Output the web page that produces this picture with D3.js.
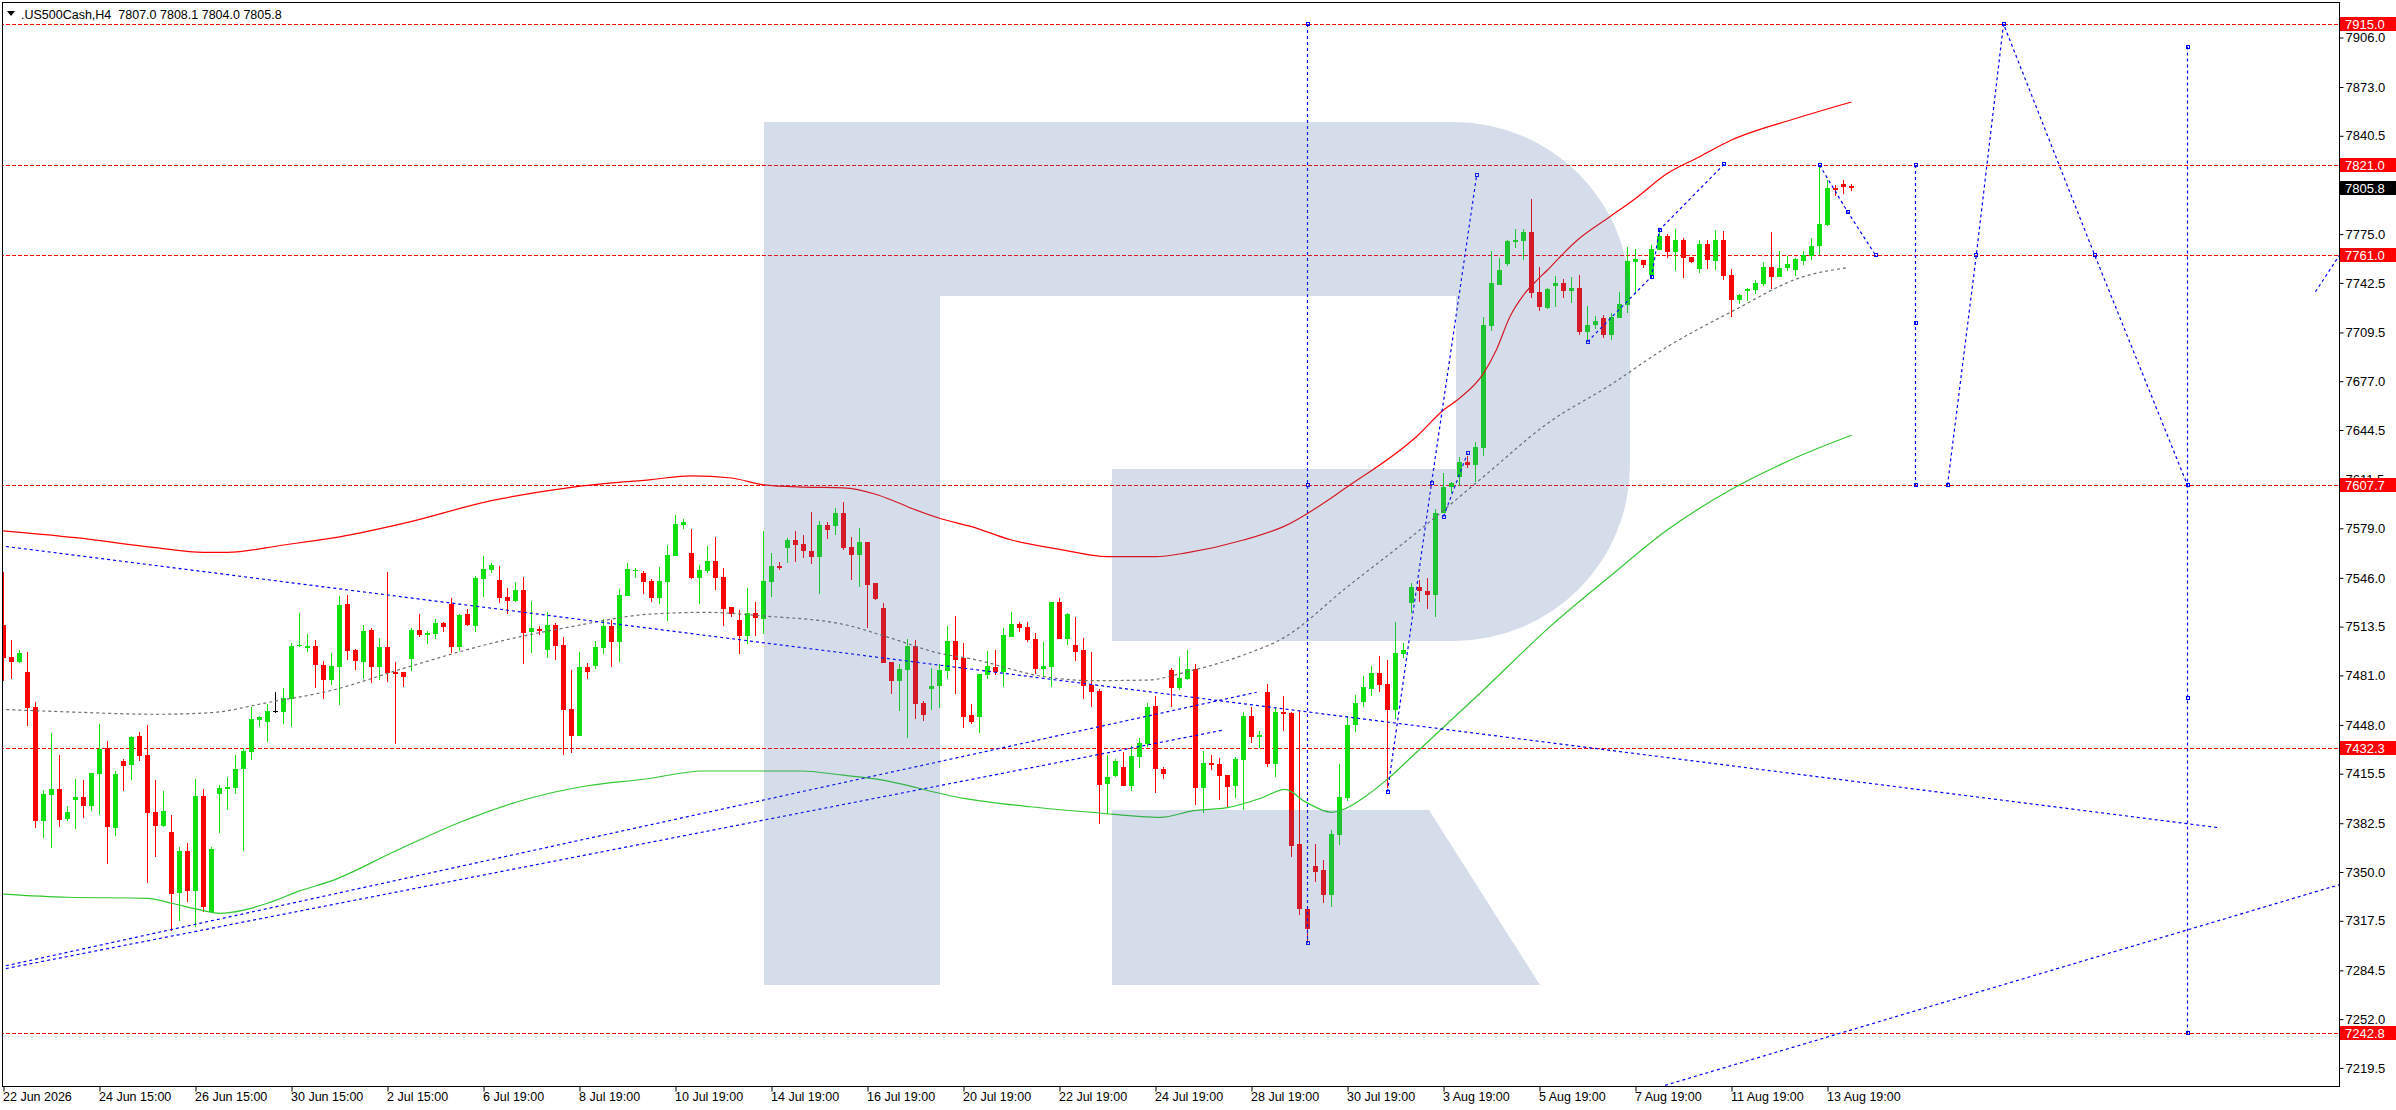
<!DOCTYPE html>
<html>
<head>
<meta charset="utf-8">
<script src="https://cdn.jsdelivr.net/npm/d3@7"></script>
<style>
body { margin: 0; background: #fff; }
svg { display: block; font-family: Tahoma, "Liberation Sans", Arial, sans-serif; }
</style>
</head>
<body>
<script>

// ---- data ----
var symbolTitle = ".US500Cash,H4  7807.0 7808.1 7804.0 7805.8";

var opens = [
7514.6,7493.5,7490.2,7483.3,7459.8,7384.3,7401.6,7405.4,7385.6,7398.2,
7400.0,7394.3,7415.4,7432.5,7379.6,7424.0,7421.3,7440.7,7428.0,7390.0,
7380.9,7376.7,7336.3,7364.1,7337.6,7400.7,7323.6,7402.3,7405.1,7406.3,
7418.5,7430.2,7451.3,7450.2,7457.3,7456.9,7465.6,7500.6,7499.3,7500.6,
7488.2,7477.9,7486.6,7528.6,7497.9,7489.9,7511.3,7486.6,7499.9,7483.3,
7483.3,7491.9,7511.3,7508.0,7508.6,7515.9,7528.6,7499.9,7521.9,7513.9,
7545.2,7551.2,7544.6,7533.3,7530.6,7537.9,7509.9,7511.9,7497.9,7514.6,
7501.3,7458.6,7440.6,7486.6,7487.3,7499.3,7513.9,7503.3,7533.9,7550.9,
7549.2,7543.9,7532.6,7543.2,7560.6,7581.2,7562.6,7545.9,7550.6,7557.2,
7546.6,7526.6,7517.9,7507.3,7522.6,7518.6,7543.2,7553.9,7565.9,7571.2,
7568.6,7563.9,7559.9,7581.2,7580.6,7589.2,7566.6,7561.2,7569.9,7542.6,
7525.9,7489.9,7477.3,7484.6,7500.6,7462.6,7471.9,7473.9,7483.9,7503.9,
7492.6,7454.6,7453.5,7481.5,7486.6,7483.5,7506.6,7515.2,7513.2,7505.2,
7485.3,7486.6,7529.9,7505.2,7501.2,7497.9,7474.6,7470.6,7408.6,7414.0,
7419.9,7407.3,7426.6,7435.3,7460.6,7418.6,7484.6,7472.6,7478.6,7485.3,
7405.9,7422.6,7421.9,7414.6,7407.3,7424.6,7453.9,7439.9,7469.9,7421.9,
7456.6,7455.8,7368.7,7325.2,7354.0,7351.4,7334.9,7374.7,7399.3,7448.0,
7463.3,7472.0,7482.6,7475.3,7458.0,7495.2,7529.0,7540.1,7537.2,7534.6,
7588.9,7606.7,7613.4,7623.2,7621.2,7632.7,7714.0,7741.1,7755.1,7769.7,
7770.6,7776.6,7736.4,7726.0,7740.6,7742.4,7737.3,7739.3,7710.0,7714.3,
7719.3,7707.8,7719.1,7727.8,7756.6,7758.0,7748.0,7764.4,7773.7,7763.1,
7771.1,7759.8,7751.8,7768.4,7757.1,7771.1,7747.8,7731.1,7737.1,7737.8,
7741.8,7753.1,7746.4,7752.4,7751.1,7757.1,7760.4,7767.1,7781.1,7805.7,
7808.4,7807.0];

var highs = [
7550.2,7504.6,7497.9,7496.6,7463.3,7404.7,7442.7,7428.0,7394.0,7412.0,
7411.4,7416.3,7448.7,7437.4,7417.1,7425.6,7440.7,7443.3,7448.0,7411.4,
7404.0,7388.0,7366.9,7369.2,7412.0,7405.6,7366.9,7408.0,7413.6,7428.0,
7432.5,7459.8,7454.0,7461.8,7470.0,7472.9,7502.4,7522.4,7508.6,7504.6,
7490.6,7495.9,7533.9,7534.6,7498.6,7514.6,7512.6,7505.9,7549.9,7489.9,
7483.3,7512.6,7521.9,7510.6,7518.6,7516.5,7532.6,7521.9,7525.3,7547.2,
7560.6,7555.9,7553.9,7539.2,7543.2,7546.6,7530.6,7513.9,7523.3,7515.9,
7506.6,7484.6,7496.6,7489.3,7503.9,7518.6,7517.9,7538.6,7555.9,7552.6,
7550.6,7545.2,7553.2,7567.9,7587.9,7585.2,7578.6,7554.6,7567.2,7573.2,
7552.6,7526.6,7524.6,7539.2,7529.9,7577.2,7562.6,7556.6,7572.6,7577.2,
7574.6,7589.9,7583.9,7583.2,7592.5,7596.5,7573.2,7579.2,7569.9,7542.6,
7529.3,7489.9,7488.6,7505.3,7504.6,7463.9,7485.9,7488.6,7513.9,7520.6,
7502.6,7461.9,7481.9,7497.3,7497.9,7512.6,7523.2,7516.6,7516.6,7509.2,
7503.2,7529.9,7532.6,7522.6,7519.9,7505.9,7496.6,7471.9,7427.9,7425.3,
7429.9,7433.9,7439.3,7462.6,7467.3,7419.9,7485.9,7493.3,7497.9,7488.6,
7430.6,7427.9,7425.9,7414.6,7426.6,7456.6,7459.9,7443.9,7475.3,7459.3,
7467.3,7456.6,7457.3,7327.0,7368.7,7358.0,7378.0,7422.2,7454.0,7468.0,
7480.6,7487.3,7494.0,7491.3,7516.6,7502.8,7542.3,7544.5,7545.9,7591.8,
7616.1,7610.1,7626.3,7627.2,7636.3,7720.0,7763.7,7759.1,7771.1,7778.4,
7778.4,7798.4,7753.1,7739.3,7747.1,7745.1,7746.4,7747.7,7727.3,7720.7,
7720.9,7722.4,7736.4,7766.4,7765.1,7758.0,7767.7,7777.7,7775.1,7778.4,
7772.4,7759.8,7771.1,7771.1,7777.7,7777.1,7751.8,7735.1,7739.1,7744.4,
7756.4,7776.4,7763.8,7760.4,7759.1,7763.8,7772.4,7820.4,7811.1,7807.7,
7811.1,7808.1];

var lows = [
7477.5,7478.6,7489.1,7447.3,7379.6,7372.9,7366.3,7380.3,7384.0,7378.9,
7386.3,7390.9,7387.8,7355.6,7374.3,7404.3,7411.6,7424.0,7343.0,7360.3,
7380.3,7310.8,7317.4,7329.9,7313.6,7323.6,7322.5,7375.8,7391.4,7402.0,
7364.3,7424.7,7446.9,7436.9,7455.8,7448.7,7446.9,7500.2,7496.6,7472.9,
7465.3,7474.6,7461.3,7491.3,7484.6,7478.6,7476.2,7477.9,7476.6,7435.3,
7473.3,7483.9,7506.6,7501.9,7505.3,7509.9,7495.9,7497.3,7513.9,7509.9,
7533.3,7549.2,7529.3,7521.9,7529.9,7488.6,7495.9,7507.9,7492.6,7491.3,
7428.0,7429.3,7440.6,7478.6,7485.3,7495.3,7486.6,7489.9,7533.9,7545.9,
7535.3,7529.9,7528.6,7517.3,7560.6,7578.6,7545.2,7528.6,7549.2,7537.9,
7513.9,7519.9,7495.3,7501.9,7507.3,7508.6,7533.3,7551.2,7555.9,7556.6,
7559.2,7555.2,7535.3,7571.9,7574.6,7564.6,7544.6,7539.9,7512.6,7531.3,
7489.3,7468.6,7457.3,7439.3,7452.0,7450.6,7457.9,7459.3,7478.6,7468.6,
7446.2,7448.8,7442.8,7478.8,7481.5,7473.5,7506.6,7509.9,7503.2,7481.9,
7480.6,7473.5,7505.2,7501.2,7490.6,7465.3,7459.9,7382.0,7388.7,7413.3,
7407.3,7404.0,7419.3,7433.0,7402.6,7412.0,7459.9,7471.3,7477.9,7394.6,
7389.3,7417.9,7397.9,7392.6,7399.3,7391.3,7435.9,7432.6,7419.9,7413.3,
7443.9,7360.2,7321.2,7303.6,7343.6,7329.6,7326.9,7368.0,7397.3,7443.5,
7460.0,7467.3,7469.9,7405.8,7452.0,7492.4,7522.3,7530.1,7525.0,7520.1,
7588.9,7602.7,7607.2,7619.4,7610.1,7627.2,7710.4,7741.1,7754.0,7765.7,
7757.7,7732.6,7724.0,7725.3,7726.7,7732.6,7729.3,7708.0,7704.7,7712.0,
7706.0,7704.5,7719.1,7722.4,7735.1,7752.4,7745.5,7764.4,7759.1,7750.4,
7745.8,7755.8,7749.1,7751.8,7751.1,7744.4,7719.8,7728.4,7730.4,7735.1,
7740.4,7738.4,7746.4,7750.4,7747.1,7754.4,7757.8,7761.1,7780.4,7800.4,
7801.7,7804.0];

var closes = [
7492.9,7490.2,7495.7,7459.6,7384.3,7402.0,7405.4,7384.9,7390.0,7400.0,
7394.3,7416.3,7432.2,7380.3,7415.4,7420.9,7440.0,7427.3,7389.6,7380.9,
7390.7,7335.6,7364.1,7337.6,7400.7,7326.5,7365.4,7406.3,7406.9,7418.7,
7430.7,7452.0,7453.3,7457.3,7457.3,7465.8,7500.6,7501.0,7500.6,7488.2,
7478.0,7487.3,7527.9,7497.5,7490.6,7510.6,7486.6,7499.9,7482.6,7481.9,
7479.9,7511.3,7507.9,7509.3,7515.9,7513.3,7499.9,7521.3,7514.6,7545.9,
7551.9,7554.6,7532.6,7530.6,7537.9,7509.3,7512.6,7510.6,7514.6,7500.6,
7457.9,7440.6,7486.6,7483.3,7499.9,7513.9,7503.3,7534.6,7551.9,7551.3,
7543.2,7532.6,7543.9,7561.2,7581.9,7583.2,7545.9,7551.2,7557.2,7545.9,
7525.3,7521.9,7507.3,7522.6,7519.3,7543.9,7553.9,7552.6,7571.2,7567.9,
7563.9,7559.9,7581.2,7577.9,7589.2,7565.9,7561.2,7569.9,7541.2,7531.9,
7489.3,7477.3,7485.3,7500.6,7461.9,7454.6,7473.9,7484.6,7503.9,7491.3,
7453.5,7450.2,7481.9,7487.3,7483.5,7507.9,7515.2,7512.6,7504.6,7485.3,
7487.3,7529.9,7505.2,7521.9,7496.6,7473.9,7469.9,7408.0,7413.3,7423.9,
7407.3,7427.3,7435.9,7459.9,7418.6,7415.3,7472.6,7479.3,7485.3,7405.9,
7422.6,7421.3,7413.9,7406.6,7425.3,7453.9,7439.9,7441.3,7421.9,7456.6,
7455.3,7367.6,7325.2,7311.8,7350.3,7334.9,7375.3,7400.0,7448.0,7462.6,
7473.3,7482.6,7474.6,7458.0,7495.9,7497.9,7540.1,7537.4,7534.6,7588.9,
7606.7,7609.4,7623.2,7621.2,7633.4,7714.4,7742.4,7751.1,7770.6,7771.1,
7776.6,7735.8,7726.7,7738.6,7742.4,7737.3,7739.3,7710.0,7714.7,7717.3,
7708.0,7719.8,7728.4,7757.1,7758.4,7754.4,7765.1,7773.7,7763.1,7771.1,
7759.1,7756.4,7768.4,7757.8,7771.1,7747.1,7731.1,7734.4,7738.4,7742.4,
7753.1,7746.4,7752.4,7755.1,7758.4,7761.1,7767.1,7781.7,7805.7,7804.4,
7806.4,7805.8];

// envelope lines: bar index / price pairs read at intervals
var upperBars = [-0.4,9,19,25,28,35,41,50,61,71,81,86,91,95,100,105,109,111,113,117,121,126,132,138,144,148,155,160,168.3,176.6,180,182,185,186.6,188.3,190,191.7,193,195,197,200.8,204,208,212,216,224,231];
var upperVals = [7577.5,7572.8,7566.1,7563.0,7563.0,7567.9,7572.4,7582.3,7597.4,7606.3,7611.5,7614.0,7612.5,7608.0,7606.5,7606.0,7601.7,7597.9,7593.4,7585.7,7580.1,7571.2,7565.0,7560.1,7560.1,7562.8,7571.2,7580.1,7607.8,7640.0,7657.8,7665.6,7682.2,7697.8,7720.0,7734.4,7744.4,7751.1,7762.2,7772.2,7786.6,7798.8,7815.5,7826.6,7837.7,7852.0,7863.0];

var midBars = [-0.4,8,19,26,33,41,50,61,71,81,88,95,105,111,117,121,130,136,143,148,155,160,168,176,185,193,201,208,216,225,230.4];
var midVals = [7458.4,7456.7,7455.1,7456.2,7462.9,7471.0,7485.7,7502.4,7513.5,7521.9,7523.0,7520.6,7515.0,7505.7,7495.7,7492.0,7480.2,7477.5,7477.9,7483.5,7494.6,7506.0,7540.1,7573.4,7613.4,7648.9,7675.0,7700.0,7723.3,7746.7,7752.6];

var lowerBars = [-0.4,8,18,21,25,27,33,37,41,49,57,65,73,80,87.5,99.7,104.7,109,120,128.3,136.6,144.6,148.8,153,157.1,160.2,162.7,166,167.3,170.2,173.1,176.4,185,193,201,208,216,224,231];
var lowerVals = [7335.4,7333.2,7332.5,7329.2,7324.3,7322.5,7329.2,7337.4,7344.1,7364.0,7383.0,7398.0,7407.5,7411.8,7417.3,7417.3,7414.7,7412.0,7399.1,7393.5,7389.5,7386.4,7390.9,7392.9,7399.1,7405.1,7396.9,7389.8,7391.3,7400.2,7412.4,7428.6,7471.3,7512.0,7547.9,7578.0,7605.0,7626.0,7641.0];

// horizontal levels and labels on the price scale
var levels = [7915.0, 7821.0, 7761.0, 7607.7, 7432.3, 7242.8];
var lastPrice = 7805.8;
var priceTicks = [7906.0,7873.0,7840.5,7775.0,7742.5,7709.5,7677.0,7644.5,7611.5,7579.0,7546.0,7513.5,7481.0,7448.0,7415.5,7382.5,7350.0,7317.5,7284.5,7252.0,7219.5];
var timeLabels = ["22 Jun 2026","24 Jun 15:00","26 Jun 15:00","30 Jun 15:00","2 Jul 15:00","6 Jul 19:00","8 Jul 19:00","10 Jul 19:00","14 Jul 19:00","16 Jul 19:00","20 Jul 19:00","22 Jul 19:00","24 Jul 19:00","28 Jul 19:00","30 Jul 19:00","3 Aug 19:00","5 Aug 19:00","7 Aug 19:00","11 Aug 19:00","13 Aug 19:00"];
var barsPerLabel = 12;

// drawn objects: [bar, price] anchor points
var trendFall  = [[-0.44, 7567.4], [277.1, 7379.4]];
var trendRiseA = [[-0.44, 7286.7], [156.65, 7469.8]];
var trendRiseB = [[-0.44, 7284.9], [152.5, 7444.6]];
var trendBase  = [[207.7, 7207.9], [292.0, 7341.6]];

var waveVert1 = [[163, 7915.0], [163, 7607.7], [163, 7302.5]];
var waveRise1 = [[173, 7403.5], [178.5, 7609.0], [184.15, 7814.4]];
var waveRise2 = [[180, 7586.8], [183, 7629.1]];
var waveRise3 = [[198, 7703.3], [206, 7746.7], [207, 7777.8], [215.1, 7821.7]];
var waveDrop  = [[227, 7821.0], [230.5, 7790.0], [234, 7761.0]];
var waveVert2 = [[239, 7821.0], [239, 7715.7], [239, 7607.7]];
var wavePeak  = [[243, 7607.7], [246.6, 7761.0], [250, 7915.0], [261.4, 7761.0], [273, 7607.7]];
var waveVert3 = [[273, 7900.0], [273, 7607.7], [273, 7466.0], [273, 7242.8]];
var waveTail  = [[289, 7736.6], [292, 7761.0]];

// ---- layout ----
var width = 2396, height = 1110;
var plotRight = 2339, plotBottom = 1086;

var x = d3.scaleLinear().domain([0, 1]).range([3.5, 11.5]);      // 8px per bar
var y = d3.scaleLinear().domain([7906, 7219.5]).range([37.5, 1067.9]);

var bull = "#10e010", bear = "#ff0000", blue = "#0000ff";

var svg = d3.select("body").append("svg")
.attr("width", width)
.attr("height", height);

svg.append("defs").append("clipPath").attr("id", "plot")
.append("rect").attr("x", 3).attr("y", 3).attr("width", plotRight - 3).attr("height", plotBottom - 3);

var plot = svg.append("g").attr("clip-path", "url(#plot)");

// red horizontal levels
plot.selectAll("line.level").data(levels).enter().append("line")
.attr("class", "level")
.attr("x1", 0).attr("x2", plotRight)
.attr("y1", function(d) { return Math.round(y(d)) + 0.5; })
.attr("y2", function(d) { return Math.round(y(d)) + 0.5; })
.attr("stroke", "#ff0000")
.attr("stroke-dasharray", "4,2");

// candles
var bars = d3.range(opens.length).map(function(i) {
	return {i: i, o: opens[i], h: highs[i], l: lows[i], c: closes[i]};
});

var candle = plot.selectAll("g.candle").data(bars).enter().append("g")
.attr("class", "candle")
.attr("shape-rendering", "crispEdges")
.attr("fill", function(d) { return d.c > d.o ? bull : (d.c < d.o ? bear : "#000"); });

candle.append("rect")
.attr("x", function(d) { return x(d.i) - 0.5; })
.attr("width", 1)
.attr("y", function(d) { return Math.round(y(d.h)); })
.attr("height", function(d) { return Math.max(1, Math.round(y(d.l)) - Math.round(y(d.h))); });

candle.append("rect")
.attr("x", function(d) { return x(d.i) - 2.5; })
.attr("width", 5)
.attr("y", function(d) { return Math.round(y(Math.max(d.o, d.c))); })
.attr("height", function(d) { return Math.max(1, Math.round(y(Math.min(d.o, d.c))) - Math.round(y(Math.max(d.o, d.c)))); });

// envelope lines
var curve = d3.line()
.x(function(d) { return x(d[0]); })
.y(function(d) { return y(d[1]); })
.curve(d3.curveMonotoneX);

function zip(a, b) { return a.map(function(v, i) { return [v, b[i]]; }); }

plot.append("path").datum(zip(upperBars, upperVals))
.attr("d", curve).attr("fill", "none").attr("stroke", "#ff0000").attr("stroke-width", 1.2);
plot.append("path").datum(zip(midBars, midVals))
.attr("d", curve).attr("fill", "none").attr("stroke", "#6e6e6e").attr("stroke-width", 1.2).attr("stroke-dasharray", "3,3");
plot.append("path").datum(zip(lowerBars, lowerVals))
.attr("d", curve).attr("fill", "none").attr("stroke", "#32c832").attr("stroke-width", 1.2);

// blue dotted objects
var straight = d3.line()
.x(function(d) { return x(d[0]); })
.y(function(d) { return y(d[1]); });

[trendFall, trendRiseA, trendRiseB, trendBase].forEach(function(pts) {
	plot.append("path").datum(pts)
	.attr("d", straight).attr("fill", "none")
	.attr("stroke", blue).attr("stroke-width", 1.2).attr("stroke-dasharray", "3,3");
});

[waveVert1, waveRise1, waveRise2, waveRise3, waveDrop, waveVert2, wavePeak, waveVert3, waveTail].forEach(function(pts, k) {
	plot.append("path").datum(pts)
	.attr("d", straight).attr("fill", "none")
	.attr("stroke", blue).attr("stroke-width", 1.2).attr("stroke-dasharray", "3,3");
	if (pts === waveTail) return;
	plot.selectAll("rect.m" + k).data(pts).enter().append("rect")
	.attr("class", "m" + k)
	.attr("x", function(d) { return Math.round(x(d[0])) - 1.5; })
	.attr("y", function(d) { return Math.round(y(d[1])) - 1.5; })
	.attr("width", 3).attr("height", 3)
	.attr("fill", "none").attr("stroke", blue).attr("stroke-width", 1);
});

// watermark logo, semi transparent over the plot
var logo = plot.append("g").attr("fill", "rgb(72,110,162)").attr("fill-opacity", 0.235);
logo.append("path").attr("d", "M764,122H940V985H764Z");
logo.append("path").attr("d", "M940,122H1454A176,176 0 0 1 1630,298V465A176,176 0 0 1 1454,641H1112V469H1456V296H940Z");
logo.append("path").attr("d", "M1112,810H1429L1540,985H1112Z");

// frame
svg.append("rect")
.attr("x", 2.5).attr("y", 2.5)
.attr("width", plotRight - 2).attr("height", plotBottom - 2)
.attr("fill", "none").attr("stroke", "#000").attr("stroke-width", 1)
.attr("shape-rendering", "crispEdges");

// price axis
var yAxis = svg.append("g")
.attr("transform", "translate(" + (plotRight + 0.5) + ",0)")
.call(d3.axisRight(y).tickValues(priceTicks).tickFormat(d3.format(".1f")).tickSize(4).tickPadding(2));
yAxis.select(".domain").remove();
yAxis.selectAll("text").attr("font-size", 13).attr("fill", "#000").attr("font-family", "Tahoma, 'Liberation Sans', Arial, sans-serif");

function priceTag(v, bg) {
	var g = svg.append("g");
	var yy = Math.round(y(v));
	g.append("rect").attr("x", plotRight + 1).attr("y", yy - 7).attr("width", width - plotRight - 1).attr("height", 14).attr("fill", bg);
	g.append("text").attr("x", plotRight + 6).attr("y", yy).attr("dy", "0.35em")
	.attr("font-size", 13).attr("fill", "#fff").text(d3.format(".1f")(v));
}
levels.forEach(function(v) { priceTag(v, "#ff0000"); });
priceTag(lastPrice, "#000");

// time axis
var xAxis = svg.append("g")
.attr("transform", "translate(0," + (plotBottom + 0.5) + ")")
.call(d3.axisBottom(x)
	.tickValues(timeLabels.map(function(d, i) { return i * barsPerLabel; }))
	.tickFormat(function(d, i) { return timeLabels[i]; })
	.tickSize(5));
xAxis.select(".domain").remove();
xAxis.selectAll("text")
.attr("text-anchor", "start").attr("x", -1).attr("y", 6)
.attr("font-size", 12.5).attr("fill", "#000").attr("font-family", "Tahoma, 'Liberation Sans', Arial, sans-serif");

// header
svg.append("path").attr("d", "M7,11H15L11,16Z").attr("fill", "#000");
svg.append("text").attr("x", 21).attr("y", 19).attr("font-size", 12.5).attr("fill", "#000")
.attr("xml:space", "preserve").style("white-space", "pre").text(symbolTitle);

</script>
</body>
</html>
